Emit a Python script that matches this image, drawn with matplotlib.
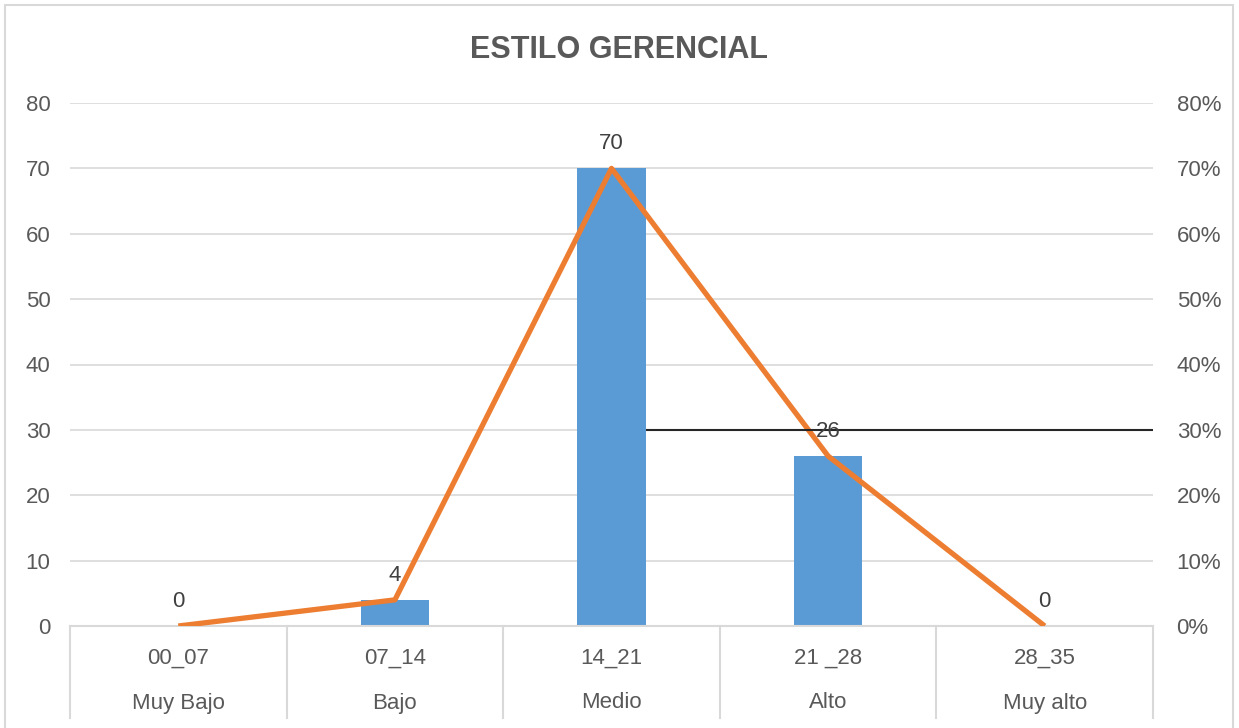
import matplotlib
matplotlib.use("Agg")
import matplotlib.pyplot as plt
from matplotlib.patches import Rectangle
from matplotlib.ticker import FuncFormatter, MultipleLocator
import matplotlib.transforms as mtransforms

ranges = ["00_07", "07_14", "14_21", "21 _28", "28_35"]
levels = ["Muy Bajo", "Bajo", "Medio", "Alto", "Muy alto"]
counts = [0, 4, 70, 26, 0]
percents = [0.0, 0.04, 0.70, 0.26, 0.0]
ref_value = 30

plt.rcParams['font.family'] = ['Liberation Sans', 'DejaVu Sans']

fig = plt.figure(figsize=(12.39, 7.28), dpi=100)
fig.patch.set_facecolor("white")
fig.patches.append(Rectangle((5/1239, -0.05), 1228/1239, 1.05 - 5/728,
                             transform=fig.transFigure, fill=False,
                             edgecolor="#D9D9D9", linewidth=1.5))

ax = fig.add_axes([70/1239, 102/728, 1083/1239, 523/728])
x = list(range(len(ranges)))
ax.bar(x, counts, width=0.314, color="#5B9BD5", zorder=2)
ax.set_xlim(-0.5, len(ranges) - 0.5)
ax.set_ylim(0, 80)
ax.yaxis.set_major_locator(MultipleLocator(10))
ax.grid(axis="y", color="#D9D9D9", linewidth=1.2, zorder=0)
ax.set_axisbelow(True)
for s in ["top", "right", "left"]:
    ax.spines[s].set_visible(False)
ax.spines["bottom"].set_color("#D9D9D9")
ax.spines["bottom"].set_linewidth(1.5)
ax.tick_params(axis="y", length=0, labelsize=16, labelcolor="#595959", pad=14)
ax.set_xticks(x)
ax.set_xticklabels([])
ax.tick_params(axis="x", length=0)

ax2 = ax.twinx()
ax2.set_ylim(0, 0.8)
ax2.yaxis.set_major_locator(MultipleLocator(0.1))
ax2.yaxis.set_major_formatter(FuncFormatter(lambda v, p: f"{round(v*100)}%"))
for s in ["top", "right", "left", "bottom"]:
    ax2.spines[s].set_visible(False)
ax2.tick_params(axis="y", length=0, labelsize=16, labelcolor="#595959", pad=17)
ax2.plot(x, percents, color="#ED7D31", linewidth=3.8, zorder=3, solid_capstyle="butt")

# reference line
ax2.hlines(ref_value / 100, 2 + 0.157, 4.5, color="#262626", linewidth=1.5, zorder=4)

# data labels
for xi, c, p in zip(x, counts, percents):
    ax2.annotate(f"{c}", (xi, p), xytext=(0, 10), textcoords="offset points",
                 ha="center", va="bottom", fontsize=16, color="#404040", zorder=5)

# two-level category axis
trans = mtransforms.blended_transform_factory(ax.transData, ax.transAxes)
h = 523
for i in range(len(ranges) + 1):
    ax.plot([i - 0.5, i - 0.5], [0, -(718 - 626) / h], transform=trans,
            color="#D9D9D9", linewidth=1.5, clip_on=False)
for xi, r, l in zip(x, ranges, levels):
    ax.text(xi, -(658 - 626) / h, r, transform=trans, ha="center", va="center",
            fontsize=16, color="#595959")
    ax.text(xi, -(703 - 626) / h, l, transform=trans, ha="center", va="center",
            fontsize=16, color="#595959")

fig.text(0.5, 1 - 50/728, "ESTILO GERENCIAL", ha="center", va="center",
         fontsize=22, fontweight="bold", color="#595959")

fig.savefig("out.png", dpi=100)
